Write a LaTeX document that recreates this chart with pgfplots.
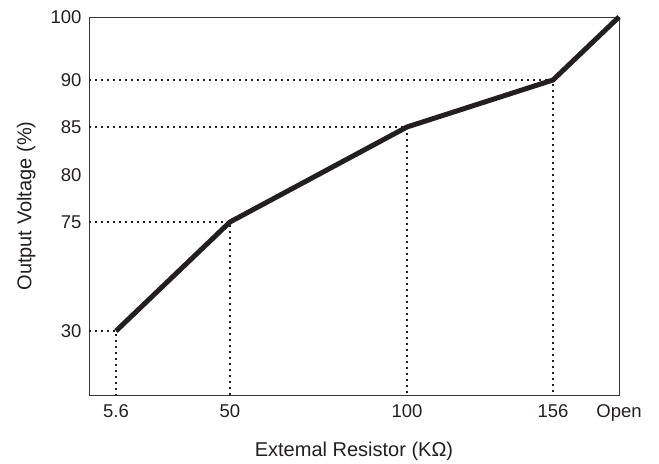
\documentclass[border=0pt]{standalone}
\usepackage{pgfplots}
\pgfplotsset{compat=1.18}
\usepackage{fontspec}
\setmainfont{Liberation Sans}
\definecolor{ink}{HTML}{231F20}
\begin{document}
\begin{tikzpicture}
\begin{axis}[
    name=ax,
    scale only axis,
    width=530pt, height=378pt,
    xmin=0, xmax=530,
    ymin=0, ymax=378,
    clip=false,
    % positions follow the drawn (non-uniform) scale of the original
    xtick={27,141,318,464,530},
    xticklabels={5.6,50,100,156,Open},
    ytick={64,173,220,268,315,378},
    yticklabels={30,75,80,85,90,100},
    major tick length=0pt,
    axis line style={line width=0.9pt, color=ink!90},
    tick label style={font=\fontsize{18.5}{22}\selectfont, color=ink},
    xticklabel style={yshift=-6pt},
    yticklabel style={xshift=-4pt},
    label style={font=\fontsize{20}{24}\selectfont, color=ink},
    xlabel={Extemal Resistor (K\symbol{"03A9})},
    ylabel={Output Voltage (\%)},
    xlabel style={at={(axis description cs:0.5,-0.1614)}, anchor=base},
    ylabel style={at={(axis description cs:-0.0943,0.5)}, anchor=south},
]
\addplot[ink, line width=1.2pt, dash pattern=on 2pt off 4pt] coordinates {(0,64)(27,64)(27,0)};
\addplot[ink, line width=1.2pt, dash pattern=on 2pt off 4pt] coordinates {(0,173)(141,173)(141,0)};
\addplot[ink, line width=1.2pt, dash pattern=on 2pt off 4pt] coordinates {(0,268)(318,268)(318,0)};
\addplot[ink, line width=1.2pt, dash pattern=on 2pt off 4pt] coordinates {(0,315)(464,315)(464,0)};
\addplot[ink, line width=5pt, line join=miter] coordinates {
    (27,64)(141,173)(318,268)(464,315)(530,378)
};
\end{axis}
\path ([xshift=-89pt,yshift=-66pt]ax.south west) rectangle ([xshift=40pt,yshift=17pt]ax.north east);
\end{tikzpicture}
\end{document}
